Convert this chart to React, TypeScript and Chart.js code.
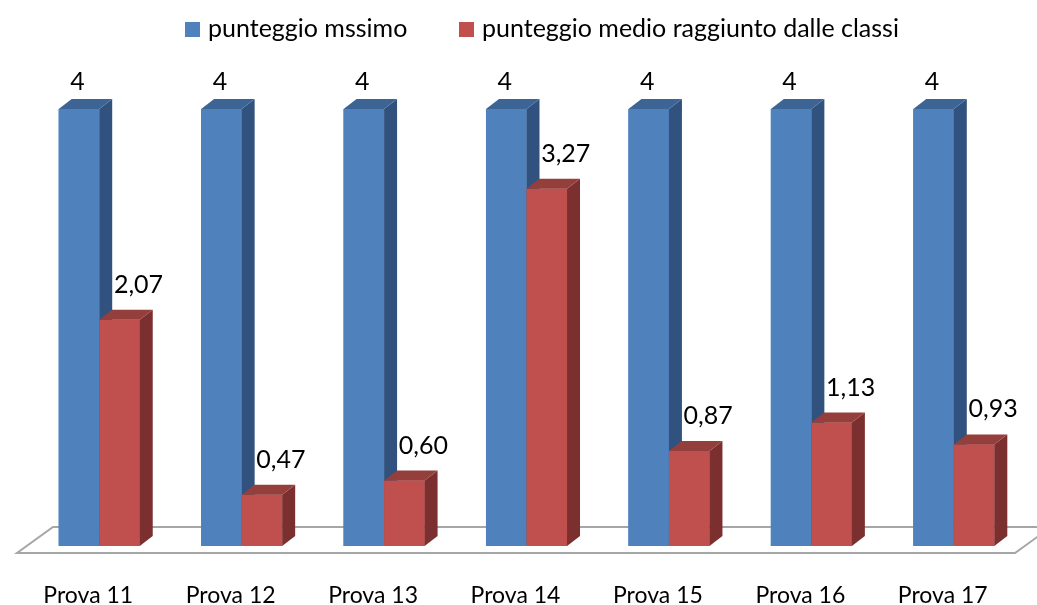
import { useEffect, useRef } from "react";
import { Chart, registerables } from "chart.js";

Chart.register(...registerables);

const categories = ["Prova 11", "Prova 12", "Prova 13", "Prova 14", "Prova 15", "Prova 16", "Prova 17"];
const maxScores = [4, 4, 4, 4, 4, 4, 4];
const avgScores = [2.07, 0.47, 0.6, 3.27, 0.87, 1.13, 0.93];
const seriesNames = ["punteggio mssimo", "punteggio medio raggiunto dalle classi"];

const FONT = "Lato, 'Open Sans', sans-serif";
const DX = 13;
const DY = -10;

const faceColors = [
  { front: "#4f81bd", side: "#31527e", top: "#3c6596" },
  { front: "#c0504d", side: "#7b2f2e", top: "#953f3c" },
];

const fmt = (v: number) => (Number.isInteger(v) ? String(v) : v.toFixed(2).replace(".", ","));

const threeD = {
  id: "threeD",
  beforeDatasetsDraw(chart: any) {
    const { ctx, chartArea } = chart;
    const b = chartArea.bottom;
    ctx.save();
    ctx.beginPath();
    ctx.moveTo(chartArea.left - 11, b + 7);
    ctx.lineTo(chartArea.right - 10, b + 7);
    ctx.lineTo(chartArea.right + 26, b - 19);
    ctx.lineTo(chartArea.left + 25, b - 19);
    ctx.closePath();
    ctx.fillStyle = "#ffffff";
    ctx.fill();
    ctx.lineWidth = 2;
    ctx.strokeStyle = "#a6a6a6";
    ctx.stroke();
    ctx.restore();
  },
  afterDatasetsDraw(chart: any) {
    const { ctx } = chart;
    ctx.save();
    // redraw bars as 3D blocks in series order (left series first)
    chart.data.datasets.forEach((_ds: any, di: number) => {
      const colors = faceColors[di];
      chart.getDatasetMeta(di).data.forEach((el: any) => {
        const { x, y, base, width } = el.getProps(["x", "y", "base", "width"], true);
        const l = x - width / 2;
        const r = x + width / 2;
        ctx.fillStyle = colors.front;
        ctx.fillRect(l, y, width, base - y);
        ctx.beginPath();
        ctx.moveTo(r, y);
        ctx.lineTo(r + DX, y + DY);
        ctx.lineTo(r + DX, base + DY);
        ctx.lineTo(r, base);
        ctx.closePath();
        ctx.fillStyle = colors.side;
        ctx.fill();
        ctx.beginPath();
        ctx.moveTo(l, y);
        ctx.lineTo(l + DX, y + DY);
        ctx.lineTo(r + DX, y + DY);
        ctx.lineTo(r, y);
        ctx.closePath();
        ctx.fillStyle = colors.top;
        ctx.fill();
      });
    });
    // value labels
    ctx.font = `25px ${FONT}`;
    ctx.fillStyle = "#000";
    ctx.textAlign = "center";
    ctx.textBaseline = "middle";
    chart.data.datasets.forEach((ds: any, di: number) => {
      chart.getDatasetMeta(di).data.forEach((el: any, i: number) => {
        const { x, y } = el.getProps(["x", "y"], true);
        const v = ds.data[i];
        if (di === 0) ctx.fillText(fmt(v), x - 1.5, y - 27);
        else ctx.fillText(fmt(v), x + 19, y - 35);
      });
    });
    ctx.restore();
  },
  afterDraw(chart: any) {
    const { ctx } = chart;
    ctx.save();
    ctx.font = `25px ${FONT}`;
    ctx.textBaseline = "middle";
    ctx.textAlign = "left";
    const starts = [185, 459];
    chart.data.datasets.forEach((ds: any, i: number) => {
      const x0 = starts[i];
      ctx.fillStyle = faceColors[i].front;
      ctx.fillRect(x0, 22, 15, 15);
      ctx.fillStyle = "#000";
      ctx.fillText(ds.label, x0 + 23, 29);
    });
    ctx.restore();
  },
};

export default function App() {
  const ref = useRef<HTMLCanvasElement | null>(null);
  useEffect(() => {
    if (!ref.current) return;
    const chart = new Chart(ref.current, {
      type: "bar",
      data: {
        labels: categories,
        datasets: [
          { label: seriesNames[0], data: maxScores, backgroundColor: faceColors[0].front, borderWidth: 0 },
          { label: seriesNames[1], data: avgScores, backgroundColor: faceColors[1].front, borderWidth: 0 },
        ],
      },
      options: {
        animation: false,
        responsive: true,
        maintainAspectRatio: false,
        datasets: { bar: { categoryPercentage: 0.569, barPercentage: 1 } },
        layout: { padding: { left: 28, right: 12, top: 109, bottom: 0 } },
        plugins: { legend: { display: false }, tooltip: { enabled: false } },
        scales: {
          x: {
            grid: { display: false, drawTicks: false },
            border: { display: false },
            ticks: { font: { family: FONT, size: 23 }, color: "#000", padding: 36, labelOffset: -11 },
            afterFit: (s: any) => {
              s.height = 59;
            },
          },
          y: { display: false, min: 0, max: 4 },
        },
      },
      plugins: [threeD],
    });
    return () => chart.destroy();
  }, []);
  return (
    <div style={{ position: "absolute", left: 0, top: 0, width: 1037, height: 605, background: "#fff" }}>
      <canvas ref={ref} />
    </div>
  );
}
